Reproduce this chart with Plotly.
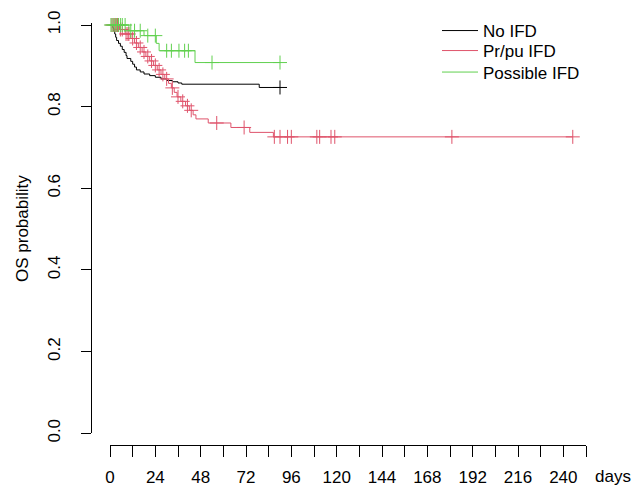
import numpy as np
import plotly.graph_objects as go

# ---------------- data ----------------
x_ticks = list(range(0, 253, 12))
x_tick_labels = [str(v) if v % 24 == 0 else "" for v in x_ticks]
y_ticks = [0.0, 0.2, 0.4, 0.6, 0.8, 1.0]
y_tick_labels = ["0.0", "0.2", "0.4", "0.6", "0.8", "1.0"]

series_names = ["No IFD", "Pr/pu IFD", "Possible IFD"]
series_colors = ["#000000", "#DF536B", "#61D04F"]

black_t = [0, 1.5, 2, 2.5, 3, 3.5, 4.5, 5.5, 6.5, 7.5, 8.5, 9, 11, 12, 13, 14,
           16, 18, 21, 24, 27, 30, 33, 36, 38, 79]
black_s = [1.0, 0.993, 0.985, 0.978, 0.970, 0.962, 0.955, 0.948, 0.940, 0.933,
           0.925, 0.918, 0.911, 0.904, 0.897, 0.890, 0.885, 0.880, 0.876, 0.872,
           0.868, 0.864, 0.861, 0.858, 0.855, 0.847]
black_end = 90
black_cens = [90]

red_t = [0, 5, 8, 11, 13, 15, 17, 19, 21, 23, 25, 27, 29, 31, 32.5, 34, 35.5,
         37.5, 40, 42, 44, 45.5, 52, 64, 74, 86.5]
red_s = [1.0, 0.989, 0.978, 0.967, 0.956, 0.945, 0.934, 0.923, 0.912, 0.901,
         0.890, 0.879, 0.868, 0.857, 0.846, 0.835, 0.824, 0.813, 0.802, 0.791,
         0.780, 0.770, 0.760, 0.749, 0.737, 0.726]
red_end = 245
red_cens = [1, 2, 3, 4, 5.5, 6.5, 8.5, 9.5, 10, 12, 14, 16, 18, 20, 22, 24, 26,
            28, 30, 33, 36, 38.5, 41, 43, 56.5, 71, 87, 90, 94, 96, 109.5, 111,
            117, 119, 181, 245]

green_t = [0, 10, 18, 24.5, 26, 45]
green_s = [1.0, 0.986, 0.974, 0.955, 0.937, 0.908]
green_end = 90
green_cens = [0.5, 1.5, 2.5, 3.5, 4.5, 5.5, 6.5, 8, 11, 13, 16, 20, 24, 30,
              32.5, 36.5, 39.5, 41.5, 54, 90]

groups = [
    (black_t, black_s, black_end, black_cens),
    (red_t, red_s, red_end, red_cens),
    (green_t, green_s, green_end, green_cens),
]

FONT = "Liberation Sans, Arial, Helvetica, sans-serif"
FS = 17

fig = go.Figure()

legend_ids = ["legend", "legend2", "legend3"]
for i, ((t, s, end, cens), name, col) in enumerate(zip(groups, series_names, series_colors)):
    xs = list(t) + [end]
    ys = list(s) + [s[-1]]
    fig.add_trace(go.Scatter(
        x=xs, y=ys, mode="lines", line=dict(color=col, width=1, shape="hv"),
        name=name, legend=legend_ids[i], showlegend=True, hoverinfo="skip"))
    t_arr = np.array(t, dtype=float)
    s_arr = np.array(s, dtype=float)
    idx = np.searchsorted(t_arr, np.array(cens, dtype=float), side="right") - 1
    cy = s_arr[idx]
    fig.add_trace(go.Scatter(
        x=cens, y=cy, mode="markers", cliponaxis=False,
        marker=dict(symbol="cross-thin", size=10, line=dict(color=col, width=1)),
        showlegend=False, hoverinfo="skip"))

# geometry in page pixels (body margin removed below)
FW, FH = 636, 487
L = 91
x0_px = 110
x_right = 586
R = FW - x_right
T = 23
y0_px = 433.3
y_axis_line = 445
B = FH - y_axis_line
W = FW - L - R
H = FH - T - B

legend_common = dict(
    font=dict(family=FONT, size=FS, color="#000000"),
    bgcolor="rgba(0,0,0,0)", borderwidth=0,
    xanchor="left", yanchor="middle", itemwidth=36,
)
row_y = [31.0, 51.0, 72.5]
layout_legends = {}
for lid, ry in zip(legend_ids, row_y):
    layout_legends[lid] = dict(legend_common, x=(437 - L) / W, y=1 - (ry - T) / H)

fig.update_layout(
    template="none",
    width=FW, height=FH,
    margin=dict(l=L, r=R, t=T, b=B, pad=0, autoexpand=False),
    paper_bgcolor="white", plot_bgcolor="white",
    font=dict(family=FONT, size=FS, color="#000000"),
    xaxis=dict(
        domain=[(x0_px - L) / W, 1], range=[0, 252],
        anchor="free", position=0, automargin=False,
        tickmode="array", tickvals=x_ticks, ticktext=x_tick_labels,
        ticks="outside", ticklen=11, tickwidth=1, tickcolor="#000000",
        showline=True, linecolor="#000000", linewidth=1,
        showgrid=False, zeroline=False, ticklabelstandoff=6,
        tickfont=dict(family=FONT, size=FS, color="#000000"),
    ),
    yaxis=dict(
        domain=[(FH - B - y0_px) / H, 1], range=[0, 1 + 2 / 408.3],
        anchor="free", position=0, automargin=False,
        tickmode="array", tickvals=y_ticks, ticktext=y_tick_labels,
        ticks="outside", ticklen=10, tickwidth=1, tickcolor="#000000",
        showline=True, linecolor="#000000", linewidth=1,
        showgrid=False, zeroline=False, tickangle=-90, ticklabelstandoff=14,
        tickfont=dict(family=FONT, size=FS, color="#000000"),
    ),
    annotations=[
        dict(text="OS probability", xref="paper", yref="paper",
             x=(22 - L) / W, y=1 - (229 - T) / H, textangle=-90,
             showarrow=False, font=dict(family=FONT, size=FS, color="#000000"),
             xanchor="center", yanchor="middle"),
        dict(text="days", xref="paper", yref="paper",
             x=(613 - L) / W, y=1 - (476 - T) / H,
             showarrow=False, font=dict(family=FONT, size=FS, color="#000000"),
             xanchor="center", yanchor="middle"),
    ],
    **layout_legends,
)

fig.write_html(
    "out.html",
    config={"displayModeBar": False, "staticPlot": True},
    post_script="document.body.style.margin='0';"
                "document.documentElement.style.overflow='hidden';",
)
